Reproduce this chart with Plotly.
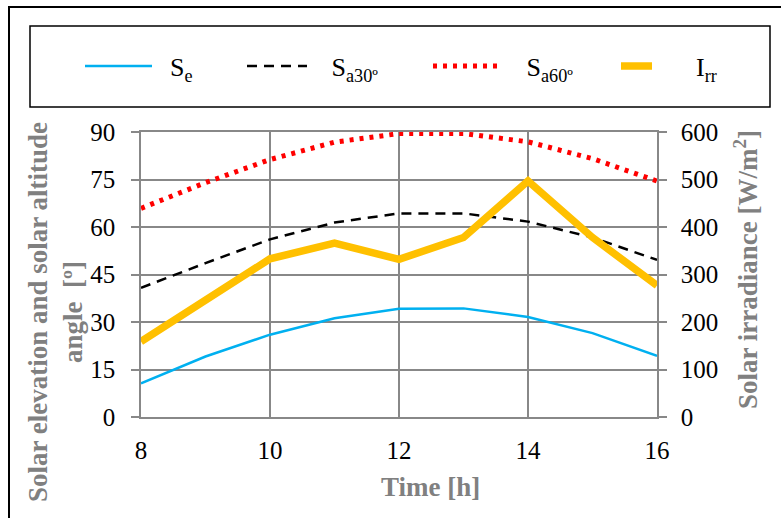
import plotly.graph_objects as go

hours = [8, 9, 10, 11, 12, 13, 14, 15, 16]
se = [10.6, 19.1, 26.0, 31.2, 34.2, 34.3, 31.6, 26.5, 19.3]
sa30 = [40.8, 48.6, 56.1, 61.4, 64.3, 64.3, 61.7, 56.7, 49.6]
sa60 = [65.9, 74.0, 81.3, 86.8, 89.5, 89.5, 86.9, 81.6, 74.5]
irr = [159, 247, 333, 366, 332, 378, 497, 378, 277]

NB = "\u00a0"
names = [NB * 2 + "S<sub>e</sub>", NB * 3 + "S<sub>a30º</sub>",
         NB * 3 + "S<sub>a60º</sub>", NB * 6 + "I<sub>rr</sub>"]

# plot-area geometry in pixels
L, R, T, B = 141, 657, 132, 417
W, H = R - L, B - T


def px(x):
    return (x - L) / W


def py(y):
    return (B - y) / H


fig = go.Figure()
fig.add_trace(go.Scatter(x=hours, y=se, name=names[0], mode="lines", legend="legend",
                         line=dict(color="#00B0F0", width=2.5)))
fig.add_trace(go.Scatter(x=hours, y=sa30, name=names[1], mode="lines", legend="legend2",
                         line=dict(color="black", width=2.5, dash="10px,7px")))
fig.add_trace(go.Scatter(x=hours, y=sa60, name=names[2], mode="lines", legend="legend3",
                         line=dict(color="#FF0000", width=5, dash="4px,6px")))
fig.add_trace(go.Scatter(x=hours, y=irr, name=names[3], mode="lines", yaxis="y2", legend="legend4",
                         line=dict(color="#FFC000", width=7.5)))

grid = "#888888"
serif = "Liberation Serif"
tickfont = dict(family=serif, size=25, color="black")
titlefont = dict(family=serif, size=27, color="#808080")
legfont = dict(family=serif, size=26, color="black")


def leg(x_sym, width):
    return dict(orientation="h", x=px(x_sym - 6), y=py(66), xanchor="left", yanchor="middle",
                font=legfont, itemwidth=max(30, width), bgcolor="rgba(0,0,0,0)", borderwidth=0)


fig.update_layout(
    width=781, height=518,
    margin=dict(l=L, r=781 - R, t=T, b=518 - B, autoexpand=False),
    paper_bgcolor="white", plot_bgcolor="white",
    font=dict(family=serif, size=25, color="black"),
    xaxis=dict(range=[8, 16], dtick=2, tick0=8, showgrid=True, gridcolor=grid, gridwidth=1.5,
               showline=True, linecolor=grid, linewidth=1.5, mirror=True, ticks="",
               tickfont=tickfont, zeroline=False, ticklabelstandoff=10),
    yaxis=dict(range=[0, 90], dtick=15, showgrid=True, gridcolor=grid, gridwidth=1.5,
               showline=True, linecolor=grid, linewidth=1.5, ticks="outside", ticklen=8,
               tickcolor=grid, tickwidth=1.5, tickfont=tickfont, zeroline=False,
               ticklabelstandoff=11),
    yaxis2=dict(range=[0, 600], dtick=100, overlaying="y", side="right", showgrid=False,
                showline=True, linecolor=grid, linewidth=1.5, ticks="outside", ticklen=8,
                tickcolor=grid, tickwidth=1.5, tickfont=tickfont, zeroline=False,
                ticklabelstandoff=9),
    legend=leg(86, 67),
    legend2=leg(248, 60),
    legend3=leg(434, 69),
    legend4=leg(622, 31),
    showlegend=True,
)

fig.add_annotation(text="<b>Solar elevation and solar altitude<br>angle  [º]</b>",
                   xref="paper", yref="paper", x=px(55), y=py(312),
                   xanchor="center", yanchor="middle", textangle=-90, showarrow=False,
                   font=titlefont)
fig.add_annotation(text="<b>Solar irradiance [W/m<sup>2</sup>]</b>",
                   xref="paper", yref="paper", x=px(746), y=py(270),
                   xanchor="center", yanchor="middle", textangle=-90, showarrow=False,
                   font=titlefont)
fig.add_annotation(text="<b>Time [h]</b>",
                   xref="paper", yref="paper", x=px(430), y=py(487),
                   xanchor="center", yanchor="middle", showarrow=False,
                   font=titlefont)

# outer frame and legend box
fig.add_shape(type="rect", xref="paper", yref="paper",
              x0=px(9), x1=px(800), y0=py(540), y1=py(7),
              line=dict(color="black", width=2), layer="below")
fig.add_shape(type="rect", xref="paper", yref="paper",
              x0=px(30), x1=px(770), y0=py(107), y1=py(26),
              line=dict(color="black", width=1.5), layer="below")

fig.write_html("out.html", config={"displayModeBar": False},
               post_script="document.body.style.margin='0';document.body.style.padding='0';")
